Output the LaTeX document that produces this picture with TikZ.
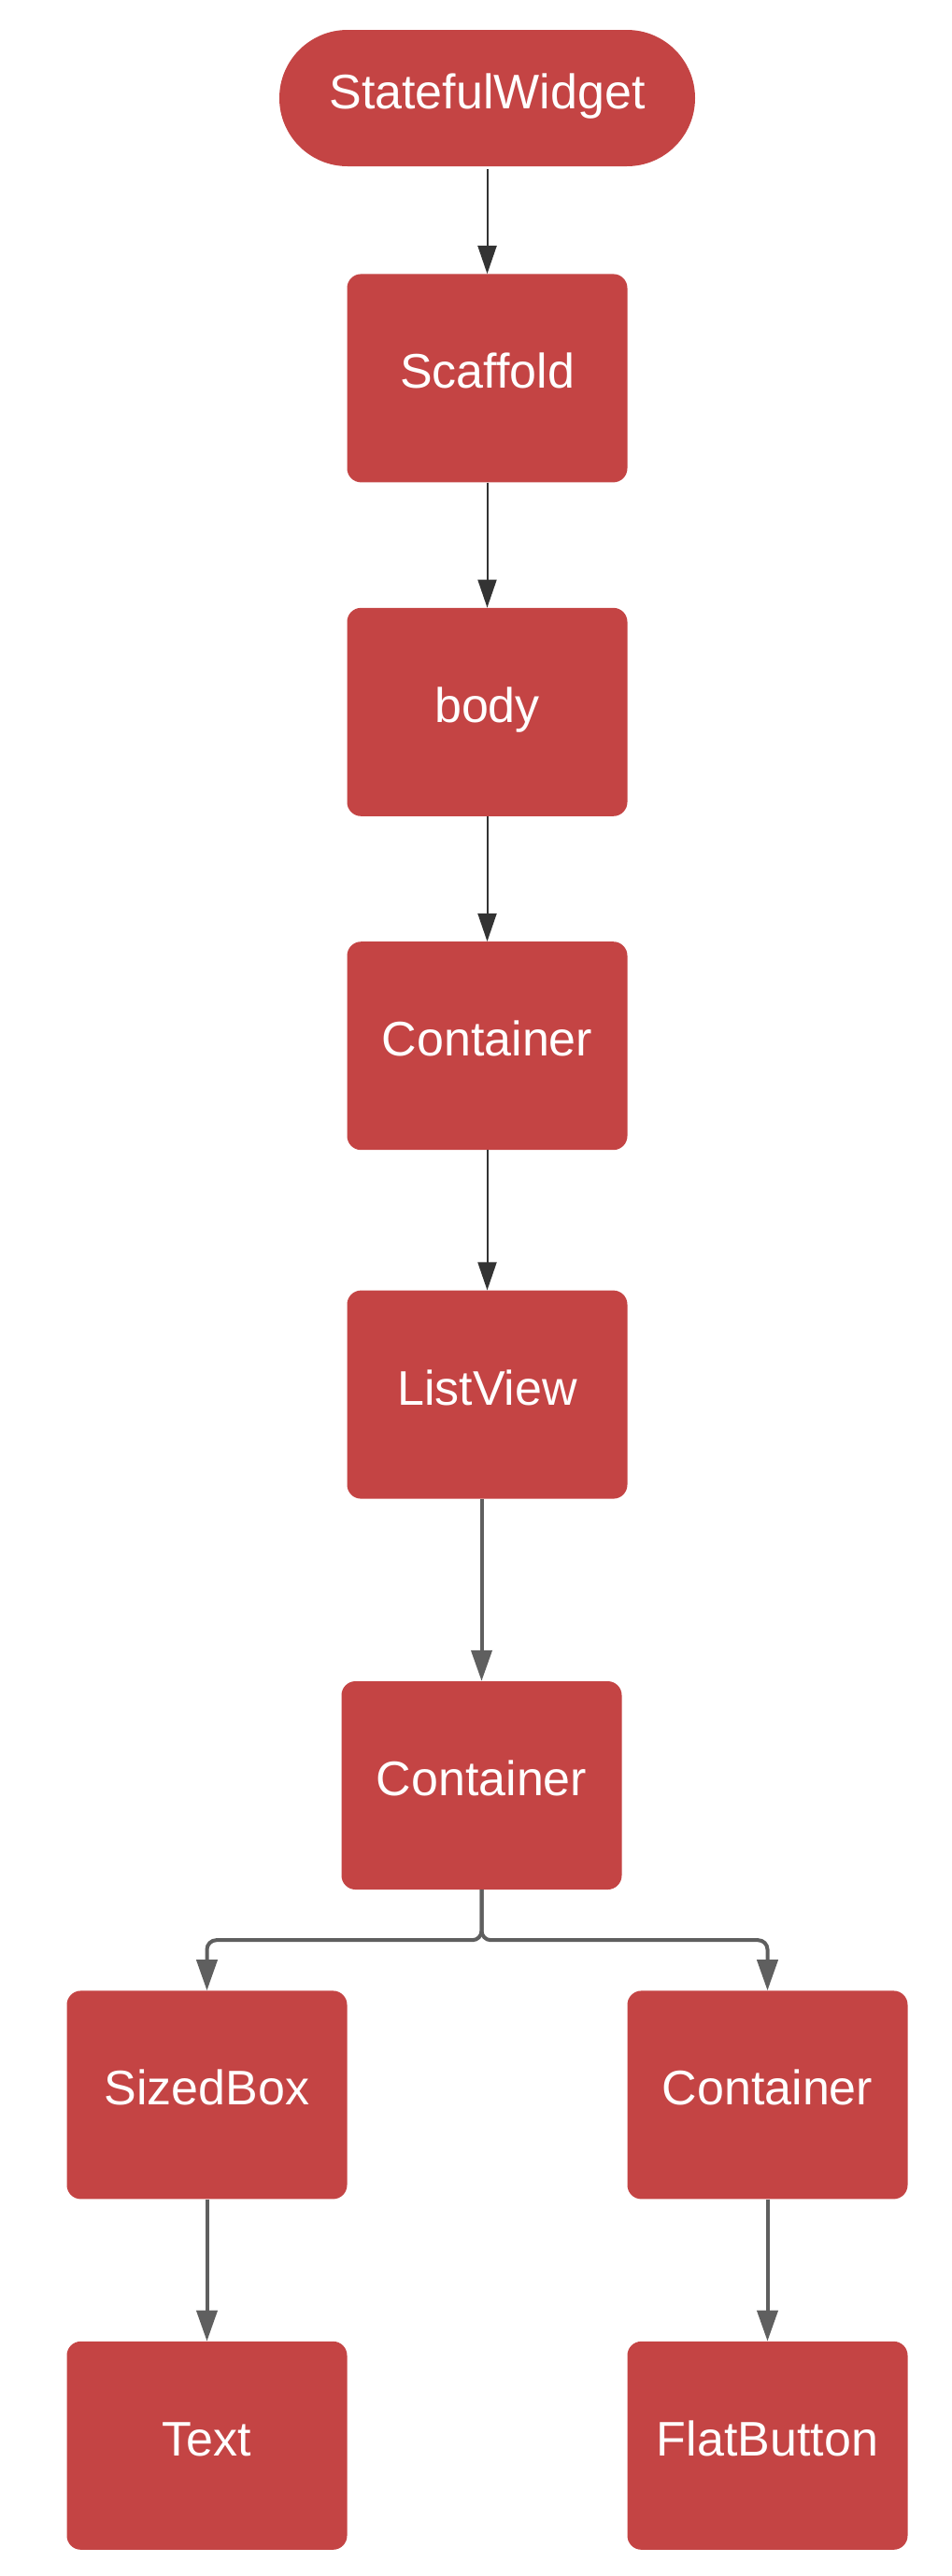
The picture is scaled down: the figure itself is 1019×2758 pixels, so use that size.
\documentclass[tikz,border=0pt]{standalone}
\usepackage{fontspec}
\setmainfont{Liberation Sans}
\usetikzlibrary{positioning,arrows.meta}
\definecolor{boxred}{RGB}{196,68,68}
\definecolor{darkline}{RGB}{51,51,51}
\definecolor{grayline}{RGB}{95,95,95}
\begin{document}
\begin{tikzpicture}[
    widget/.style={rectangle, rounded corners=15pt, fill=boxred, text=white, minimum width=300pt, minimum height=223pt, inner sep=0pt, text height=37pt, text depth=15pt, font=\fontsize{52pt}{62pt}\selectfont},
    root/.style={widget, rounded corners=73pt, minimum width=445pt, minimum height=146pt},
    darrow/.style={-{Triangle[length=30pt,width=20pt]}, darkline, line width=2pt},
    garrow/.style={-{Triangle[length=33pt,width=22pt]}, grayline, line width=4pt}
]
\useasboundingbox (0,0) rectangle (1019pt,-2758pt);

% Main column
\node[root] (sw) at (521.5pt,-105pt) {StatefulWidget};
\node[widget, below=115pt of sw] (scaf) {Scaffold};
\node[widget, below=134pt of scaf] (body) {body};
\node[widget, below=134pt of body] (cont1) {Container};
\node[widget, below=150pt of cont1] (lview) {ListView};
\node[widget, below=195pt of lview, xshift=-6pt] (cont2) {Container};

% Two branches
\node[widget, below=108pt of cont2, xshift=-294pt] (sbox) {SizedBox};
\node[widget, below=108pt of cont2, xshift=306pt] (cont3) {Container};
\node[widget, below=152pt of sbox] (txt) {Text};
\node[widget, below=152pt of cont3] (fbtn) {FlatButton};

% Connections
\draw[darrow, shorten <=3pt] (sw) -- (scaf);
\draw[darrow] (scaf) -- (body);
\draw[darrow] (body) -- (cont1);
\draw[darrow] (cont1) -- (lview);
\draw[garrow] (cont2.north |- lview.south) -- (cont2.north);

\coordinate (split) at ([yshift=-54pt]cont2.south);
\draw[garrow, rounded corners=10pt] (cont2.south) -- (split) -| (sbox.north);
\draw[garrow, rounded corners=10pt] (cont2.south) -- (split) -| (cont3.north);
\draw[garrow] (sbox) -- (txt);
\draw[garrow] (cont3) -- (fbtn);
\end{tikzpicture}
\end{document}
